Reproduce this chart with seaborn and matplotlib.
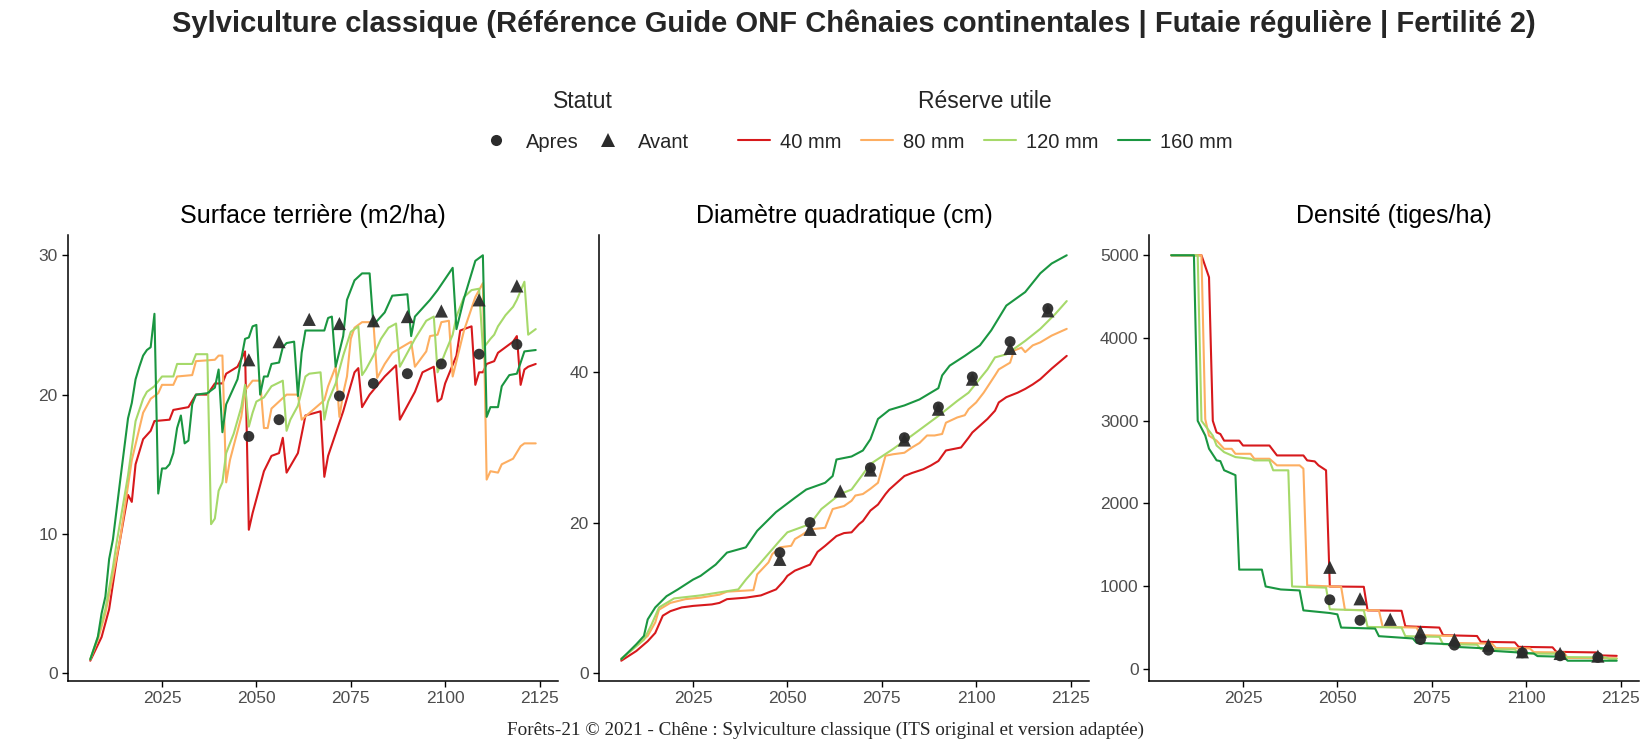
import matplotlib
matplotlib.use("Agg")
import matplotlib.pyplot as plt
import seaborn as sns
import pandas as pd
import numpy as np
from matplotlib.lines import Line2D

# ---------------- data ----------------
ru_labels = ["40 mm", "80 mm", "120 mm", "160 mm"]
ru_colors = ["#D7191C", "#FDAE61", "#A6D96A", "#1A9641"]
panel_titles = ["Surface terrière (m2/ha)", "Diamètre quadratique (cm)", "Densité (tiges/ha)"]
x_ticks = [2025, 2050, 2075, 2100, 2125]
y_ticks = [[0, 10, 20, 30], [0, 20, 40], [0, 1000, 2000, 3000, 4000, 5000]]

# Surface terriere (m2/ha) : (year, value)
ba_40 = [(2006,0.9),(2009,2.6),(2011,4.6),(2013,8.2),(2015,11.3),(2016,12.8),(2017,12.3),(2018,15.0),(2020,16.8),(2022,17.4),
         (2023,18.1),(2027,18.2),(2028,18.9),(2032,19.1),(2034,20.0),(2037,20.0),(2039,20.8),(2041,20.8),(2042,21.5),(2045,22.0),
         (2047,23.1),(2048,10.3),(2049,11.5),(2052,14.5),(2054,15.6),(2056,15.8),(2057,16.9),(2058,14.4),(2061,15.8),(2063,18.5),
         (2067,18.8),(2068,14.1),(2069,15.6),(2071,17.2),(2073,18.8),(2076,21.6),(2077,21.9),(2078,19.1),(2080,20.0),(2084,21.3),
         (2087,22.1),(2088,18.2),(2089,18.7),(2092,20.2),(2094,21.6),(2097,22.0),(2098,19.5),(2099,19.7),(2100,20.8),(2103,22.8),
         (2104,24.6),(2107,24.9),(2108,20.7),(2109,21.6),(2110,21.6),(2111,22.2),(2113,22.4),(2114,23.0),(2118,23.8),(2119,24.2),
         (2120,20.7),(2121,21.8),(2122,22.0),(2124,22.2)]
ba_80 = [(2006,1.0),(2008,2.4),(2010,4.3),(2012,7.0),(2014,9.8),(2017,15.3),(2020,18.7),(2022,19.7),(2024,20.1),(2025,20.7),
         (2028,20.7),(2029,21.3),(2033,21.4),(2034,22.4),(2039,22.5),(2040,22.8),(2041,22.8),(2042,13.7),(2043,15.3),(2046,18.4),
         (2047,20.3),(2049,21.0),(2051,21.0),(2052,17.6),(2053,17.6),(2054,19.0),(2058,20.0),(2061,20.0),(2062,18.2),(2065,18.9),
         (2068,19.6),(2069,20.6),(2071,22.0),(2072,18.4),(2073,20.1),(2074,21.3),(2075,24.0),(2076,24.8),(2078,25.2),(2081,25.2),
         (2082,21.2),(2084,22.2),(2086,23.0),(2091,23.8),(2092,22.0),(2095,23.1),(2096,24.2),(2098,24.3),(2099,25.2),(2101,25.3),
         (2102,21.3),(2105,24.6),(2108,27.0),(2110,28.0),(2111,13.9),(2112,14.5),(2114,14.4),(2115,15.0),(2118,15.4),(2120,16.3),
         (2121,16.5),(2124,16.5)]
ba_120 = [(2006,1.0),(2008,2.6),(2010,4.6),(2012,7.6),(2013,9.4),(2015,12.6),(2016,14.2),(2018,18.1),(2020,19.7),(2021,20.2),
          (2023,20.6),(2025,21.3),(2028,21.3),(2029,22.2),(2033,22.2),(2034,22.9),(2037,22.9),(2038,10.7),(2039,11.1),(2040,13.1),
          (2041,13.7),(2042,15.8),(2044,17.2),(2046,19.1),(2047,20.7),(2048,17.7),(2049,18.7),(2050,19.5),(2052,19.8),(2054,20.6),
          (2057,21.0),(2058,17.4),(2059,18.2),(2061,19.2),(2063,21.3),(2064,21.5),(2067,21.6),(2068,18.2),(2069,19.5),(2071,20.8),
          (2073,22.8),(2075,24.5),(2077,24.9),(2078,21.4),(2079,21.8),(2081,22.8),(2083,24.0),(2085,24.8),(2087,25.1),(2088,22.0),
          (2090,23.0),(2092,24.0),(2095,25.3),(2097,25.6),(2098,21.6),(2100,23.0),(2102,24.3),(2103,25.6),(2105,27.0),(2107,27.5),
          (2109,27.6),(2110,23.3),(2112,24.0),(2113,24.3),(2114,24.9),(2116,25.7),(2118,26.3),(2119,26.8),(2121,28.1),(2122,24.3),
          (2124,24.7)]
ba_160 = [(2006,1.0),(2008,2.6),(2009,4.3),(2010,5.5),(2011,8.2),(2012,9.6),(2013,11.8),(2014,14.0),(2016,18.3),(2017,19.4),
          (2018,21.1),(2019,22.0),(2020,22.8),(2021,23.2),(2022,23.4),(2023,25.8),(2024,12.9),(2025,14.7),(2026,14.7),(2027,15.0),
          (2028,15.8),(2029,17.6),(2030,18.5),(2031,16.5),(2032,16.7),(2033,19.3),(2034,20.0),(2037,20.1),(2039,20.5),(2040,21.8),
          (2041,17.3),(2042,19.3),(2045,21.1),(2047,24.0),(2048,24.1),(2049,24.9),(2050,25.0),(2051,20.0),(2052,21.3),(2053,21.3),
          (2054,22.2),(2056,22.3),(2057,23.4),(2058,23.7),(2060,23.8),(2061,19.9),(2062,23.0),(2063,24.6),(2068,24.6),(2069,25.5),
          (2070,25.6),(2071,22.0),(2073,24.2),(2074,26.8),(2076,28.2),(2078,28.7),(2080,28.7),(2081,25.0),(2084,25.9),(2086,27.1),
          (2090,27.2),(2091,24.2),(2092,25.6),(2096,26.8),(2098,27.5),(2100,28.3),(2102,29.1),(2103,24.7),(2105,26.9),(2108,29.6),
          (2110,30.0),(2111,18.4),(2112,19.1),(2114,19.1),(2115,20.6),(2117,21.4),(2119,21.5),(2121,23.1),(2124,23.2)]

# Diametre quadratique (cm)
dg_40 = [(2006,1.6),(2010,2.9),(2013,4.2),(2015,5.3),(2017,7.6),(2019,8.2),(2022,8.7),(2025,8.9),(2030,9.1),(2032,9.3),
         (2034,9.8),(2039,10.0),(2043,10.3),(2045,10.7),(2047,11.1),(2049,12.2),(2050,12.9),(2052,13.6),(2054,14.0),(2056,14.4),
         (2058,16.1),(2060,16.9),(2063,18.2),(2065,18.6),(2067,18.7),(2069,19.8),(2070,20.2),(2072,21.6),(2074,22.4),(2076,23.8),
         (2077,24.4),(2079,25.3),(2081,26.2),(2083,26.6),(2086,27.1),(2088,27.6),(2090,28.2),(2092,29.6),(2096,30.0),(2098,31.3),
         (2099,32.0),(2101,32.9),(2103,33.8),(2105,34.9),(2106,36.0),(2108,36.7),(2111,37.3),(2113,37.8),(2115,38.4),(2117,39.1),
         (2120,40.5),(2124,42.2)]
dg_80 = [(2006,1.8),(2010,3.6),(2013,4.9),(2015,6.7),(2016,8.4),(2019,9.3),(2023,9.8),(2027,10.0),(2032,10.4),(2034,10.8),
         (2041,11.0),(2042,13.1),(2045,14.7),(2046,15.8),(2048,16.7),(2051,16.9),(2052,17.8),(2054,18.4),(2056,19.1),(2060,19.3),
         (2062,21.8),(2065,22.2),(2067,22.9),(2068,23.6),(2070,23.8),(2072,24.5),(2074,25.3),(2076,28.9),(2078,29.1),(2081,29.3),
         (2083,30.0),(2085,30.6),(2087,31.6),(2089,31.6),(2091,31.8),(2092,33.3),(2095,34.0),(2097,34.3),(2098,35.1),(2100,36.0),
         (2102,37.3),(2105,39.6),(2106,40.4),(2109,41.3),(2110,42.9),(2112,43.3),(2113,42.7),(2115,43.6),(2117,44.0),(2120,44.9),
         (2124,45.8)]
dg_120 = [(2006,1.9),(2009,3.1),(2012,4.4),(2014,6.4),(2016,8.7),(2020,9.9),(2027,10.3),(2032,10.7),(2037,11.1),(2039,12.4),
          (2043,14.7),(2048,17.6),(2050,18.7),(2056,19.8),(2059,21.8),(2064,23.8),(2067,24.4),(2072,27.8),(2078,29.8),(2083,31.6),
          (2090,34.2),(2095,36.2),(2098,37.3),(2103,40.4),(2105,42.0),(2108,42.4),(2113,44.2),(2117,45.8),(2121,47.8),(2124,49.5)]
dg_160 = [(2006,1.8),(2010,3.8),(2012,4.9),(2013,7.1),(2015,8.7),(2018,10.2),(2021,11.1),(2025,12.4),(2027,12.9),(2031,14.4),
          (2034,16.0),(2039,16.7),(2042,18.9),(2047,21.4),(2052,23.3),(2055,24.4),(2060,25.3),(2062,26.2),(2063,28.4),(2067,28.8),
          (2070,29.6),(2072,31.1),(2074,33.8),(2077,35.0),(2081,35.6),(2085,36.4),(2090,37.9),(2091,39.6),(2093,40.9),(2097,42.2),
          (2101,43.6),(2104,45.6),(2108,48.9),(2113,50.7),(2117,53.2),(2120,54.5),(2124,55.6)]

# Densite (tiges/ha)
dens_40 = [(2006,5000),(2014,5000),(2016,4734),(2017,2998),(2018,2858),(2019,2838),(2020,2758),(2024,2758),(2025,2699),(2032,2699),
           (2034,2579),(2041,2579),(2042,2519),(2044,2507),(2045,2459),(2047,2399),(2048,994),(2057,990),(2058,705),(2067,700),
           (2068,513),(2077,497),(2078,405),(2087,395),(2088,325),(2097,318),(2098,264),(2107,258),(2108,204),(2119,196),
           (2120,160),(2124,155)]
dens_80 = [(2006,5000),(2014,5000),(2015,3018),(2016,2818),(2018,2758),(2020,2659),(2022,2659),(2023,2599),(2027,2599),(2028,2539),
           (2032,2539),(2034,2459),(2040,2459),(2041,2419),(2042,1006),(2051,990),(2052,712),(2061,705),(2062,505),(2071,497),
           (2072,405),(2081,395),(2082,310),(2091,302),(2092,250),(2101,245),(2102,200),(2110,196),(2111,130),(2124,126)]
dens_120 = [(2006,5000),(2013,5000),(2014,2998),(2017,2818),(2018,2699),(2020,2619),(2023,2559),(2027,2539),(2028,2519),(2032,2519),
            (2033,2399),(2037,2399),(2038,994),(2047,980),(2048,718),(2057,705),(2058,505),(2067,497),(2068,393),(2077,385),
            (2078,296),(2087,290),(2088,236),(2097,232),(2098,184),(2109,180),(2110,140),(2121,136),(2122,120),(2124,120)]
dens_160 = [(2006,5000),(2012,5000),(2013,2998),(2015,2820),(2016,2660),(2018,2520),(2019,2510),(2020,2400),(2023,2340),(2024,1198),
            (2030,1198),(2031,994),(2035,958),(2040,946),(2041,705),(2048,673),(2050,657),(2051,497),(2060,485),(2061,393),
            (2070,365),(2071,312),(2080,296),(2081,264),(2090,244),(2091,216),(2102,184),(2103,152),(2110,144),(2111,96),
            (2124,96)]

# Reference guide points (Statut)
st_years = [2048, 2056, 2064, 2072, 2081, 2090, 2099, 2109, 2119]
ba_avant = [22.5, 23.8, 25.4, 25.1, 25.3, 25.6, 26.0, 26.8, 27.8]
ba_apres = [17.0, 18.2, np.nan, 19.9, 20.8, 21.5, 22.2, 22.9, 23.6]
dg_avant = [15.1, 19.1, 24.2, 27.0, 31.0, 35.1, 39.1, 43.2, 48.2]
dg_apres = [16.0, 20.0, np.nan, 27.3, 31.3, 35.4, 39.4, 44.1, 48.5]
dens_avant = [1226, 845, 597, 445, 352, 285, 204, 184, 152]
dens_apres = [833, 585, np.nan, 352, 285, 224, 192, 156, 136]

caption = "Forêts-21 © 2021 - Chêne : Sylviculture classique (ITS original et version adaptée)"
main_title = ("Sylviculture classique (Référence Guide ONF Chênaies continentales | "
              "Futaie régulière | Fertilité 2)")

# ---------------- tidy frames ----------------
series = {
    panel_titles[0]: [ba_40, ba_80, ba_120, ba_160],
    panel_titles[1]: [dg_40, dg_80, dg_120, dg_160],
    panel_titles[2]: [dens_40, dens_80, dens_120, dens_160],
}
rows = []
for var, lst in series.items():
    for ru, pts in zip(ru_labels, lst):
        for yr, v in pts:
            rows.append((var, ru, yr, v))
lines_df = pd.DataFrame(rows, columns=["variable", "RU", "year", "value"])

markers = {
    panel_titles[0]: (ba_apres, ba_avant),
    panel_titles[1]: (dg_apres, dg_avant),
    panel_titles[2]: (dens_apres, dens_avant),
}
prow = []
for var, (ap, av) in markers.items():
    for yr, a, b in zip(st_years, ap, av):
        prow.append((var, "Apres", yr, a))
        prow.append((var, "Avant", yr, b))
pts_df = pd.DataFrame(prow, columns=["variable", "Statut", "year", "value"]).dropna()

# ---------------- style ----------------
sns.set_theme(style="ticks")
plt.rcParams["font.family"] = ["Liberation Sans", "DejaVu Sans"]

W, H = 1651, 750
fig = plt.figure(figsize=(W / 100, H / 100), dpi=100)

lefts_px = [68, 599, 1149]
ax_w_px = 490
top_px, bot_px = 235, 681
pt_color = "#2b2b2b"

for i, var in enumerate(panel_titles):
    ax = fig.add_axes([lefts_px[i] / W, 1 - bot_px / H, ax_w_px / W, (bot_px - top_px) / H])
    sub = lines_df[lines_df.variable == var]
    sns.lineplot(data=sub, x="year", y="value", hue="RU", hue_order=ru_labels,
                 palette=ru_colors, estimator=None, sort=True, lw=1.5,
                 legend=False, ax=ax)
    psub = pts_df[pts_df.variable == var]
    sns.scatterplot(data=psub[psub.Statut == "Apres"], x="year", y="value",
                    marker="o", s=62, color=pt_color, edgecolor="none",
                    alpha=0.95, legend=False, ax=ax, zorder=5)
    sns.scatterplot(data=psub[psub.Statut == "Avant"], x="year", y="value",
                    marker="^", s=90, color=pt_color, edgecolor="none",
                    alpha=0.95, legend=False, ax=ax, zorder=5)
    ax.set_xlim(2000.1, 2129.9)
    ax.set_xticks(x_ticks)
    ax.set_yticks(y_ticks[i])
    ax.set_xlabel("")
    ax.set_ylabel("")
    for s in ["top", "right"]:
        ax.spines[s].set_visible(False)
    for s in ["left", "bottom"]:
        ax.spines[s].set_color("black")
        ax.spines[s].set_linewidth(1.1)
    ax.tick_params(axis="both", colors="black", length=4.5, width=1.0,
                   labelsize=12.5, labelcolor="#4D4D4D", pad=3)
    ax.text(0.5, 1 + 19 / (bot_px - top_px), var, transform=ax.transAxes,
            ha="center", va="center", fontsize=18, color="black")

fig.text(853.5 / W, 1 - 24 / H, main_title, ha="center", va="center",
         fontsize=21, fontweight="bold")

# legends
fig.text(583 / W, 1 - 102 / H, "Statut", ha="center", va="center", fontsize=16.5)
fig.text(985 / W, 1 - 102 / H, "Réserve utile", ha="center", va="center", fontsize=16.5)

h1 = [Line2D([], [], ls="", marker="o", markersize=8, color=pt_color, markeredgewidth=0),
      Line2D([], [], ls="", marker="^", markersize=9.5, color=pt_color, markeredgewidth=0)]
leg1 = fig.legend(h1, ["Apres", "Avant"], ncol=2, loc="center",
                  bbox_to_anchor=(583 / W, 1 - 142 / H), frameon=False,
                  fontsize=14.5, handlelength=1.9, handletextpad=0.5,
                  columnspacing=0.55, borderpad=0)
h2 = [Line2D([], [], color=c, lw=1.5) for c in ru_colors]
leg2 = fig.legend(h2, ru_labels, ncol=4, loc="center",
                  bbox_to_anchor=(985.5 / W, 1 - 142 / H), frameon=False,
                  fontsize=14.5, handlelength=1.6, handletextpad=0.5,
                  columnspacing=0.95, borderpad=0)

fig.text(0.5, 1 - 730 / H, caption, ha="center", va="center", fontsize=13.8,
         family=["Liberation Serif", "DejaVu Serif"])

fig.savefig("out.png", dpi=100)
